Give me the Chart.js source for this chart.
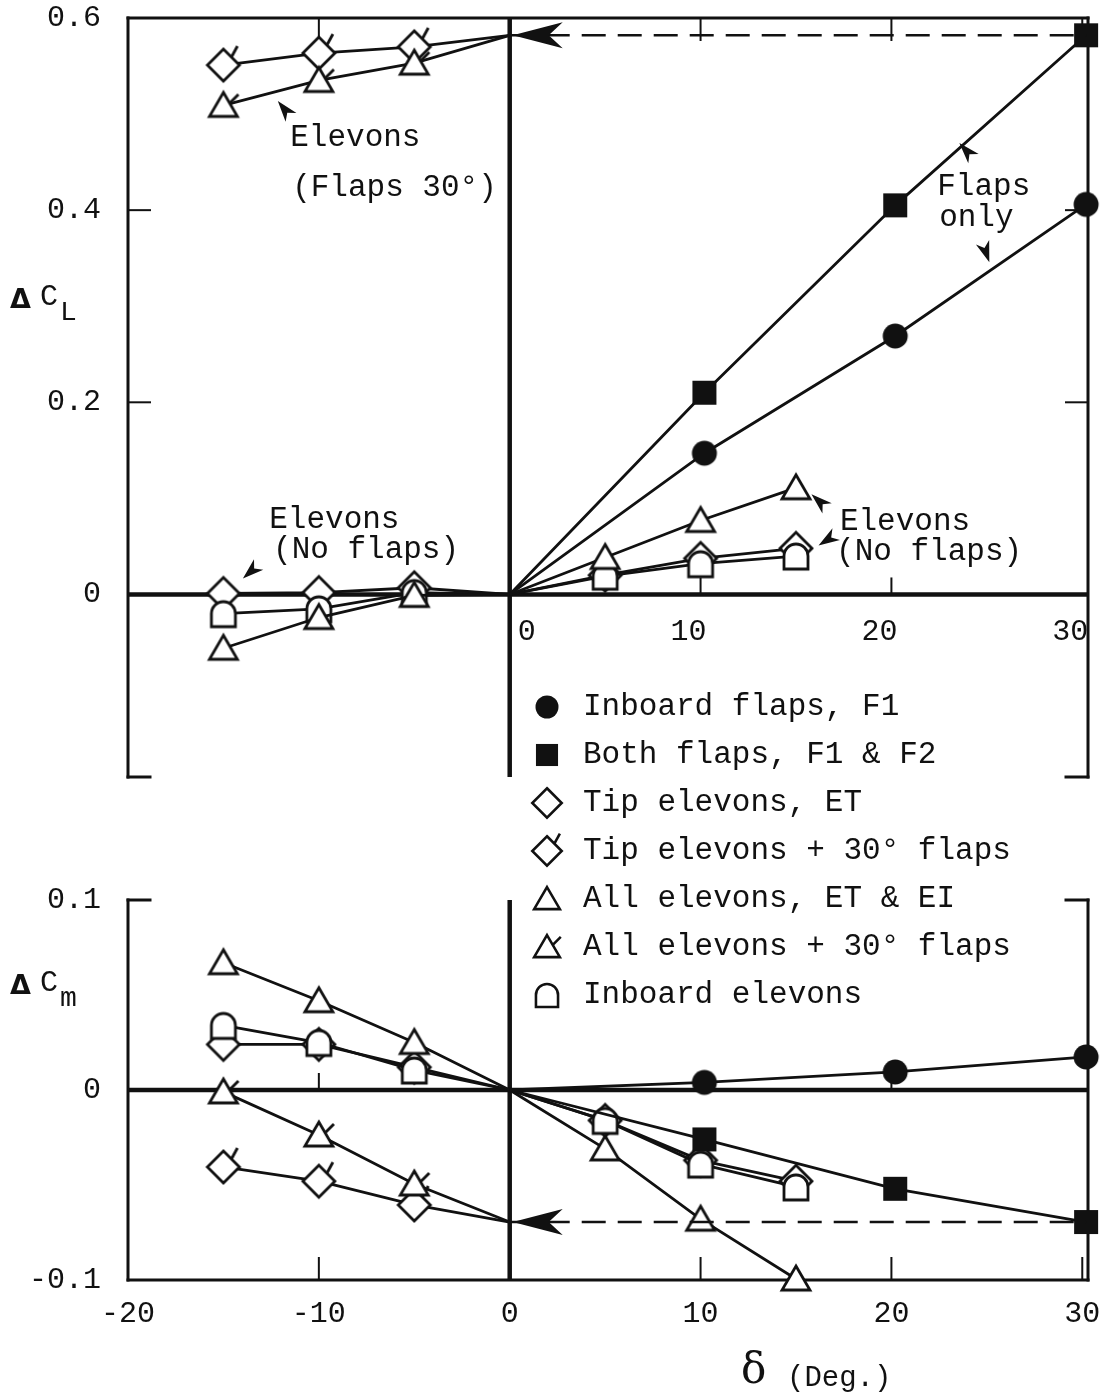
<!DOCTYPE html>
<html>
<head>
<meta charset="utf-8">
<script src="https://cdn.jsdelivr.net/npm/chart.js@4.4.1/dist/chart.umd.min.js"></script>
<style>
  html, body { margin: 0; padding: 0; background: #fff; }
  #wrap { position: relative; width: 1103px; height: 1399px; overflow: hidden; }
  canvas { position: absolute; left: 0; }
</style>
</head>
<body>
<div id="wrap">
  <canvas id="clChart" width="1103" height="800" style="top:0"></canvas>
  <canvas id="cmChart" width="1103" height="719" style="top:680px"></canvas>
</div>
<script>
const INK = "#111"
const MONO = "'Liberation Mono', 'Courier New', monospace"

// deflection angles (deg)
const elevonNeg = [-15, -10, -5]
const elevonPos = [5, 10, 15]
const flapDefl = [10.2, 20.2, 30.2]

// delta CL
const clInboardFlaps = [0.147, 0.269, 0.406]
const clBothFlaps = [0.21, 0.405, 0.582]
const clTipNeg = [0.001, 0.002, 0.007]
const clTipPos = [0.02, 0.0375, 0.048]
const clAllNeg = [-0.056, -0.024, -0.001]
const clAllPos = [0.0385, 0.077, 0.111]
const clInbElvNeg = [-0.02, -0.015, 0.002]
const clInbElvPos = [0.019, 0.032, 0.04]
const clTipFlapsNeg = [0.551, 0.5635, 0.57]
const clAllFlapsNeg = [0.509, 0.535, 0.553]

// delta Cm
const cmInboardFlaps = [0.004, 0.0095, 0.0174]
const cmBothFlaps = [-0.026, -0.052, -0.0695]
const cmTipNeg = [0.024, 0.024, 0.012]
const cmTipPos = [-0.016, -0.037, -0.048]
const cmAllNeg = [0.067, 0.047, 0.025]
const cmAllPos = [-0.031, -0.068, -0.0995]
const cmInbElvNeg = [0.034, 0.025, 0.0105]
const cmInbElvPos = [-0.016, -0.039, -0.051]
const cmTipFlapsNeg = [-0.0405, -0.048, -0.0605]
const cmAllFlapsNeg = [-0.001, -0.0237, -0.0495]

// ticks
const xTicks = [-20, -10, 0, 10, 20, 30]
const clTicks = [0, 0.2, 0.4, 0.6]
const cmTicks = [-0.1, 0, 0.1]

const legendLabels = [
  "Inboard flaps, F1",
  "Both flaps, F1 & F2",
  "Tip elevons, ET",
  "Tip elevons + 30° flaps",
  "All elevons, ET & EI",
  "All elevons + 30° flaps",
  "Inboard elevons",
]
const legendMarkers = ["circle", "square", "diamond", "diamondFlag", "triangle", "triangleFlag", "dome"]

// ---------- markers ----------
function makeMarker(kind, scale) {
  const c = document.createElement("canvas")
  c.width = 48
  c.height = 48
  const g = c.getContext("2d")
  g.translate(24, 24)
  g.scale(scale, scale)
  g.translate(-24, -24)
  g.strokeStyle = INK
  g.fillStyle = "#fff"
  g.lineWidth = 2.8
  g.beginPath()
  if (kind === "circle") {
    g.fillStyle = INK
    g.arc(24, 24, 12.5, 0, Math.PI * 2)
    g.fill()
    return c
  }
  if (kind === "square") {
    g.fillStyle = INK
    g.fillRect(12, 12, 24, 24)
    return c
  }
  if (kind.startsWith("diamond")) {
    g.moveTo(24, 8); g.lineTo(40, 24); g.lineTo(24, 40); g.lineTo(8, 24); g.closePath()
  } else if (kind.startsWith("triangle")) {
    g.moveTo(24, 11); g.lineTo(38, 35); g.lineTo(10, 35); g.closePath()
  } else if (kind === "dome") {
    g.moveTo(12, 37); g.lineTo(12, 24); g.arc(24, 24, 12, Math.PI, 0); g.lineTo(36, 37); g.closePath()
  }
  g.fill()
  g.stroke()
  if (kind === "diamondFlag") {
    g.beginPath(); g.moveTo(32, 16); g.lineTo(38, 5); g.stroke()
  }
  if (kind === "triangleFlag") {
    g.beginPath(); g.moveTo(30, 22); g.lineTo(39, 13); g.stroke()
  }
  return c
}
const markers = {}
const legendIcons = {}
legendMarkers.forEach((k) => {
  markers[k] = makeMarker(k, 1)
  legendIcons[k] = makeMarker(k, 0.92)
})

// ---------- datasets ----------
function pts(xs, ys, origin, originFirst) {
  const p = xs.map((x, i) => ({ x: x, y: ys[i] }))
  const o = { x: 0, y: origin }
  return originFirst ? [o].concat(p) : p.concat([o])
}
function series(data, marker) {
  return {
    data: data,
    showLine: true,
    borderColor: INK,
    borderWidth: 2.8,
    pointStyle: markers[marker],
    pointRadius: (c) => (c.raw && c.raw.x === 0 ? 0 : 10),
    pointHoverRadius: 0,
    clip: false,
  }
}
function dashed(level) {
  return {
    data: [{ x: 0, y: level }, { x: flapDefl[2], y: level }],
    showLine: true,
    borderColor: INK,
    borderWidth: 2.6,
    borderDash: [24, 12],
    pointRadius: 0,
    clip: false,
  }
}

const clFlaps30 = clBothFlaps[2]
const cmFlaps30 = cmBothFlaps[2]

const clSets = [
  dashed(clFlaps30),
  series(pts(flapDefl, clInboardFlaps, 0, true), "circle"),
  series(pts(flapDefl, clBothFlaps, 0, true), "square"),
  series(pts(elevonPos, clAllPos, 0, true), "triangle"),
  series(pts(elevonPos, clInbElvPos, 0, true), "dome"),
  series(pts(elevonPos, clTipPos, 0, true), "diamond"),
  series(pts(elevonNeg, clAllNeg, 0, false), "triangle"),
  series(pts(elevonNeg, clInbElvNeg, 0, false), "dome"),
  series(pts(elevonNeg, clTipNeg, 0, false), "diamond"),
  series(pts(elevonNeg, clAllFlapsNeg, clFlaps30, false), "triangleFlag"),
  series(pts(elevonNeg, clTipFlapsNeg, clFlaps30, false), "diamondFlag"),
]

const cmSets = [
  dashed(cmFlaps30),
  series(pts(flapDefl, cmInboardFlaps, 0, true), "circle"),
  series(pts(flapDefl, cmBothFlaps, 0, true), "square"),
  series(pts(elevonPos, cmAllPos, 0, true), "triangle"),
  series(pts(elevonPos, cmInbElvPos, 0, true), "dome"),
  series(pts(elevonPos, cmTipPos, 0, true), "diamond"),
  series(pts(elevonNeg, cmAllNeg, 0, false), "triangle"),
  series(pts(elevonNeg, cmInbElvNeg, 0, false), "dome"),
  series(pts(elevonNeg, cmTipNeg, 0, false), "diamond"),
  series(pts(elevonNeg, cmAllFlapsNeg, cmFlaps30, false), "triangleFlag"),
  series(pts(elevonNeg, cmTipFlapsNeg, cmFlaps30, false), "diamondFlag"),
]

// ---------- drawing helpers ----------
function seg(ctx, x1, y1, x2, y2) {
  ctx.beginPath()
  ctx.moveTo(x1, y1)
  ctx.lineTo(x2, y2)
  ctx.stroke()
}
function arrowHead(ctx, tx, ty, fx, fy, len, half, notch) {
  const ang = Math.atan2(ty - fy, tx - fx)
  ctx.save()
  ctx.translate(tx, ty)
  ctx.rotate(ang)
  ctx.beginPath()
  ctx.moveTo(0, 0)
  ctx.lineTo(-len, -half)
  ctx.lineTo(-len + notch, 0)
  ctx.lineTo(-len, half)
  ctx.closePath()
  ctx.fillStyle = INK
  ctx.fill()
  ctx.restore()
}
const fmt = (v) => (v === 0 ? "0" : v.toFixed(1))

// frame, edge ticks and the two zero axes
function framePlugin(openBottom) {
  return {
    id: "frame",
    beforeDatasetsDraw(chart) {
      const { ctx, chartArea: a, scales } = chart
      const x = scales.x, y = scales.y
      const stub = 22
      ctx.save()
      ctx.strokeStyle = INK
      ctx.lineWidth = 3
      ctx.lineCap = "square"
      seg(ctx, a.left, a.top, a.left, a.bottom)
      seg(ctx, a.right, a.top, a.right, a.bottom)
      const full = openBottom ? a.top : a.bottom
      const open = openBottom ? a.bottom : a.top
      const inward = openBottom ? 1 : -1
      seg(ctx, a.left, full, a.right, full)
      seg(ctx, a.left, open, a.left + stub, open)
      seg(ctx, a.right - stub, open, a.right, open)
      ctx.lineWidth = 2
      xTicks.forEach((v) => {
        if (v === 0 || v <= x.min || v >= x.max) return
        const px = x.getPixelForValue(v)
        seg(ctx, px, full, px, full + inward * stub)
      })
      y.ticks.forEach((t) => {
        if (t.value === 0 || t.value <= y.min || t.value >= y.max) return
        const py = y.getPixelForValue(t.value)
        seg(ctx, a.left, py, a.left + stub, py)
        seg(ctx, a.right - stub, py, a.right, py)
      })
      const x0 = x.getPixelForValue(0)
      const y0 = y.getPixelForValue(0)
      ;[-10, 10, 20].forEach((v) => {
        const px = x.getPixelForValue(v)
        seg(ctx, px, y0, px, y0 - 16)
      })
      ctx.lineWidth = 4.5
      ctx.lineCap = "butt"
      seg(ctx, x0, a.top, x0, a.bottom)
      seg(ctx, a.left, y0, a.right, y0)
      ctx.restore()
    },
  }
}

// notes and pointer arrows, in data units
function notesPlugin(cfg) {
  return {
    id: "notes",
    afterDatasetsDraw(chart) {
      const { ctx, scales } = chart
      const x = scales.x, y = scales.y
      ctx.save()
      ctx.fillStyle = INK
      ctx.textBaseline = "middle"
      ctx.textAlign = "left"
      ctx.font = "31px " + MONO
      ;(cfg.texts || []).forEach((n) => {
        ctx.fillText(n.text, x.getPixelForValue(n.at[0]), y.getPixelForValue(n.at[1]))
      })
      ;(cfg.arrows || []).forEach((r) => {
        arrowHead(ctx, x.getPixelForValue(r.tip[0]), y.getPixelForValue(r.tip[1]),
          x.getPixelForValue(r.tail[0]), y.getPixelForValue(r.tail[1]), 21, 7, 6)
      })
      // arrowhead where the 30 deg flaps level meets the zero axis
      const x0 = x.getPixelForValue(0)
      const yl = y.getPixelForValue(cfg.flapLevel)
      arrowHead(ctx, x0 + 3, yl, x0 + 60, yl, 50, 13, 14)
      if (cfg.after) cfg.after(chart, ctx)
      ctx.restore()
    },
  }
}

function yTitle(ctx, yMid, sub) {
  ctx.textBaseline = "middle"
  ctx.textAlign = "left"
  ctx.font = "bold 27px 'DejaVu Sans'"
  ctx.fillText("Δ", 10, yMid + 4)
  ctx.font = "30px " + MONO
  ctx.fillText("C", 40, yMid)
  ctx.font = "28px " + MONO
  ctx.fillText(sub, 60, yMid + 16)
}

function yScale(min, max, ticks) {
  return {
    type: "linear",
    min: min,
    max: max,
    afterFit: (s) => {
      s.width = 128
      s.paddingTop = 0
      s.paddingBottom = 0
    },
    afterBuildTicks: (s) => { s.ticks = ticks.map((v) => ({ value: v })) },
    grid: { display: false, drawTicks: false },
    border: { display: false },
    ticks: { font: { family: MONO, size: 30 }, color: INK, padding: 27, callback: (v) => fmt(v) },
  }
}

Chart.defaults.font.family = MONO
Chart.defaults.color = INK

// ---------- top: delta CL ----------
new Chart(document.getElementById("clChart"), {
  type: "scatter",
  data: { datasets: clSets },
  options: {
    responsive: false,
    animation: false,
    devicePixelRatio: 1,
    layout: { padding: { top: 18, right: 15, bottom: 23, left: 0 } },
    plugins: { legend: { display: false }, tooltip: { enabled: false } },
    scales: {
      x: { type: "linear", min: -20, max: 30.3, display: false },
      y: yScale(-0.19, 0.6, clTicks),
    },
  },
  plugins: [
    framePlugin(true),
    notesPlugin({
      flapLevel: clFlaps30,
      texts: [
        { text: "Elevons", at: [-11.5, 0.475] },
        { text: "(Flaps 30°)", at: [-11.4, 0.423] },
        { text: "Flaps", at: [22.4, 0.424] },
        { text: "only", at: [22.5, 0.392] },
        { text: "Elevons", at: [-12.6, 0.078] },
        { text: "(No flaps)", at: [-12.4, 0.046] },
        { text: "Elevons", at: [17.3, 0.076] },
        { text: "(No flaps)", at: [17.1, 0.044] },
      ],
      arrows: [
        { tip: [-12.15, 0.5135], tail: [-11.26, 0.4917] },
        { tip: [23.56, 0.4698], tail: [24.6, 0.447] },
        { tip: [25.13, 0.3458], tail: [24.7, 0.3708] },
        { tip: [-13.98, 0.0167], tail: [-13.09, 0.0323] },
        { tip: [15.81, 0.1042], tail: [16.75, 0.0875] },
        { tip: [16.18, 0.051], tail: [17.17, 0.0635] },
      ],
      after: (chart, ctx) => {
        const x = chart.scales.x, y = chart.scales.y
        const y0 = y.getPixelForValue(0) + 38
        ctx.font = "30px " + MONO
        xTicks.filter((v) => v >= 0).forEach((v) => {
          const px = x.getPixelForValue(v)
          ctx.textAlign = v === 0 ? "left" : "center"
          ctx.fillText(String(v), v === 0 ? px + 8 : px - 12, y0)
        })
        yTitle(ctx, 297, "L")
      },
    }),
  ],
})

// ---------- bottom: delta Cm ----------
const CM_TOP = 680
new Chart(document.getElementById("cmChart"), {
  type: "scatter",
  data: { datasets: cmSets },
  options: {
    responsive: false,
    animation: false,
    devicePixelRatio: 1,
    layout: { padding: { top: 220, right: 15, bottom: 0, left: 0 } },
    plugins: { legend: { display: false }, tooltip: { enabled: false } },
    scales: {
      x: {
        type: "linear",
        min: -20,
        max: 30.3,
        afterFit: (s) => {
          s.height = 119
          s.paddingLeft = 0
          s.paddingRight = 0
        },
        afterBuildTicks: (s) => { s.ticks = xTicks.map((v) => ({ value: v })) },
        grid: { display: false, drawTicks: false },
        border: { display: false },
        ticks: { font: { family: MONO, size: 30 }, color: INK, padding: 16, maxRotation: 0, callback: (v) => String(v) },
      },
      y: yScale(-0.1, 0.1, cmTicks),
    },
  },
  plugins: [
    framePlugin(false),
    notesPlugin({
      flapLevel: cmFlaps30,
      after: (chart, ctx) => {
        // legend
        ctx.textBaseline = "middle"
        ctx.textAlign = "left"
        ctx.font = "31px " + MONO
        legendLabels.forEach((lab, i) => {
          const cy = 707 - CM_TOP + i * 48
          const icon = legendIcons[legendMarkers[i]]
          ctx.drawImage(icon, 547 - 24, cy - 24)
          ctx.fillText(lab, 583, cy)
        })
        yTitle(ctx, 983 - CM_TOP, "m")
        // x axis title
        ctx.font = "42px 'DejaVu Serif'"
        ctx.fillText("δ", 741, 1372 - CM_TOP)
        ctx.font = "29px " + MONO
        ctx.fillText("(Deg.)", 787, 1378 - CM_TOP)
      },
    }),
  ],
})
</script>
</body>
</html>
